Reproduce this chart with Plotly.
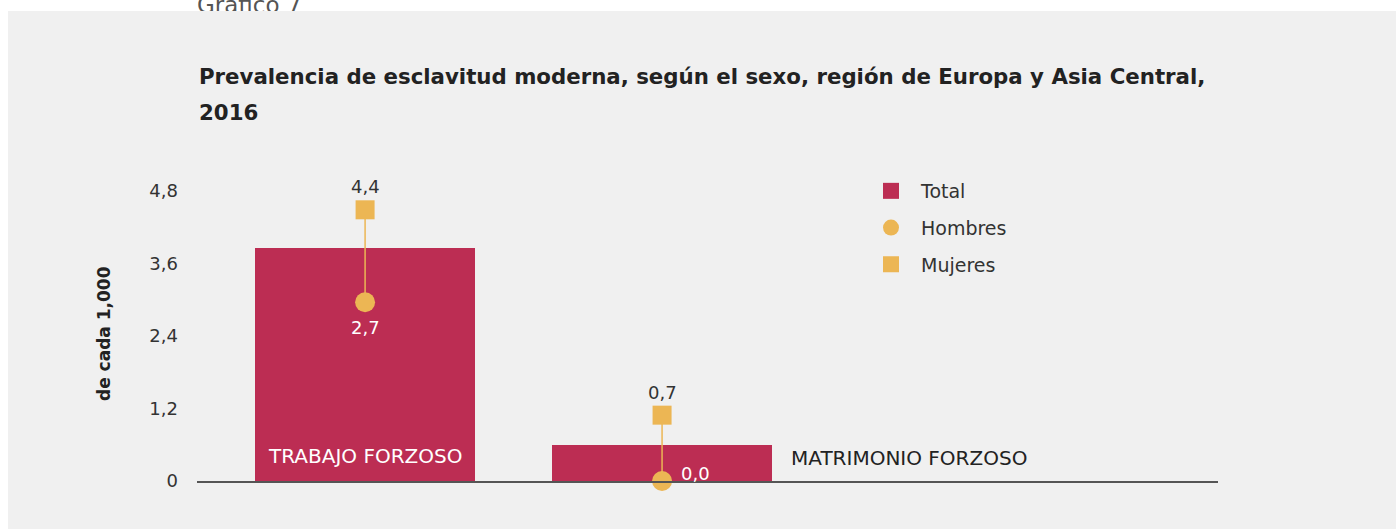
import plotly.graph_objects as go

# ---- data ----
categories = ["TRABAJO FORZOSO", "MATRIMONIO FORZOSO"]
total = [3.86, 0.6]          # bar heights as drawn
hombres = [2.96, 0.0]        # circle positions as drawn
mujeres = [4.49, 1.09]       # square positions as drawn
hombres_labels = ["2,7", "0,0"]
mujeres_labels = ["4,4", "0,7"]
tick_vals = [0, 1.2, 2.4, 3.6, 4.8]
tick_text = ["0", "1,2", "2,4", "3,6", "4,8"]

FONT = "DejaVu Sans"
RED = "#bc2d53"
ORANGE = "#ecb654"
TXT = "#333333"
BG = "#f0f0f0"

W, H = 1396, 529
L, R, B = 197, 1218, 481        # plot area in pixels (top at 0)
PX_PER_UNIT = 60.4
YMAX = B / PX_PER_UNIT


def px(x):
    return (x - L) / (R - L)


def py(y):
    return (B - y) / B


xs = list(range(len(categories)))

fig = go.Figure()

fig.add_trace(go.Bar(x=xs, y=total, width=0.741, marker=dict(color=RED, line=dict(width=0)),
                     showlegend=False, hoverinfo="skip"))

# connecting lines
lx, ly = [], []
for i in xs:
    lx += [i, i, None]
    ly += [hombres[i], mujeres[i], None]
fig.add_trace(go.Scatter(x=lx, y=ly, mode="lines", line=dict(color=ORANGE, width=1.5),
                         showlegend=False, hoverinfo="skip", cliponaxis=False))

fig.add_trace(go.Scatter(x=xs, y=hombres, mode="markers", marker=dict(symbol="circle", size=20, color=ORANGE),
                         showlegend=False, cliponaxis=False))
fig.add_trace(go.Scatter(x=xs, y=mujeres, mode="markers", marker=dict(symbol="square", size=19, color=ORANGE),
                         showlegend=False, cliponaxis=False))

# legend-only entries
fig.add_trace(go.Scatter(x=[None], y=[None], mode="markers", name="Total", legendgroup="a",
                         marker=dict(symbol="square", size=18, color=RED)))
fig.add_trace(go.Scatter(x=[None], y=[None], mode="markers", name="Hombres", legendgroup="b",
                         marker=dict(symbol="circle", size=18, color=ORANGE)))
fig.add_trace(go.Scatter(x=[None], y=[None], mode="markers", name="Mujeres", legendgroup="c",
                         marker=dict(symbol="square", size=18, color=ORANGE)))

# "Gráfico 7" header text, its lower part hidden by the grey panel
fig.add_trace(go.Scatter(x=[-0.566], y=[(B - 7) / PX_PER_UNIT], mode="text", text=["Gráfico 7"],
                         textposition="middle right",
                         textfont=dict(family=FONT, size=23, color="#555555"), showlegend=False,
                         hoverinfo="skip", cliponaxis=False))

annotations = []
for i in xs:
    annotations.append(dict(x=i, y=mujeres[i], text=mujeres_labels[i], showarrow=False, yshift=23,
                            font=dict(family=FONT, size=18, color=TXT)))
annotations.append(dict(x=0, y=hombres[0], text=hombres_labels[0], showarrow=False, yshift=-25,
                        font=dict(family=FONT, size=18, color="white")))
annotations.append(dict(x=1, y=hombres[1], text=hombres_labels[1], showarrow=False, xshift=17, yshift=8,
                        xanchor="left", font=dict(family=FONT, size=18, color="white")))
annotations.append(dict(x=0, y=0.41, text=categories[0], showarrow=False,
                        font=dict(family=FONT, size=20, color="white")))
annotations.append(dict(x=1.428, y=0.38, text=categories[1], showarrow=False, xanchor="left",
                        font=dict(family=FONT, size=20, color="#222222")))
# title lines
annotations.append(dict(xref="paper", yref="paper", x=px(197), y=py(77), xanchor="left", yanchor="middle",
                        text="<b>Prevalencia de esclavitud moderna, según el sexo, región de Europa y Asia Central,</b>",
                        showarrow=False, font=dict(family=FONT, size=21.3, color="#222222")))
annotations.append(dict(xref="paper", yref="paper", x=px(197), y=py(112), xanchor="left", yanchor="middle",
                        text="<b>2016</b>", showarrow=False, font=dict(family=FONT, size=21.3, color="#222222")))
# y axis title
annotations.append(dict(xref="paper", yref="paper", x=px(104), y=py(334), xanchor="center", yanchor="middle",
                        text="<b>de cada 1,000</b>", textangle=-90, showarrow=False,
                        font=dict(family=FONT, size=17, color="#222222")))

shapes = [
    dict(type="rect", xref="paper", yref="paper", x0=px(8), x1=px(1400),
         y0=py(535), y1=py(11), fillcolor=BG, line=dict(width=0), layer="below"),
    dict(type="rect", xref="paper", yref="paper", x0=px(8), x1=px(1400),
         y0=py(30), y1=py(11), fillcolor=BG, line=dict(width=0), layer="above"),
]

fig.update_layout(
    width=W, height=H,
    margin=dict(l=L, r=W - R, t=0, b=H - B, pad=0),
    paper_bgcolor="white", plot_bgcolor="rgba(0,0,0,0)",
    font=dict(family=FONT, color=TXT),
    xaxis=dict(range=[-0.566, 2.872], showgrid=False, zeroline=False, showticklabels=False, ticks="",
               showline=True, linecolor="#555555", linewidth=2, fixedrange=True),
    yaxis=dict(range=[0, YMAX], showgrid=False, zeroline=False, tickvals=tick_vals, ticktext=tick_text,
               ticks="", ticklabelstandoff=18, tickfont=dict(family=FONT, size=18, color=TXT), showline=False,
               fixedrange=True),
    legend=dict(x=px(861), y=py(172), xanchor="left", yanchor="top",
                bgcolor="rgba(0,0,0,0)", font=dict(family=FONT, size=19, color=TXT),
                itemwidth=50, traceorder="grouped", tracegroupgap=9),
    annotations=annotations,
    shapes=shapes,
    bargap=0,
    hovermode=False,
)

fig.write_html("out.html", config={"displayModeBar": False},
               post_script="document.body.style.margin='0';document.body.style.overflow='hidden';")
